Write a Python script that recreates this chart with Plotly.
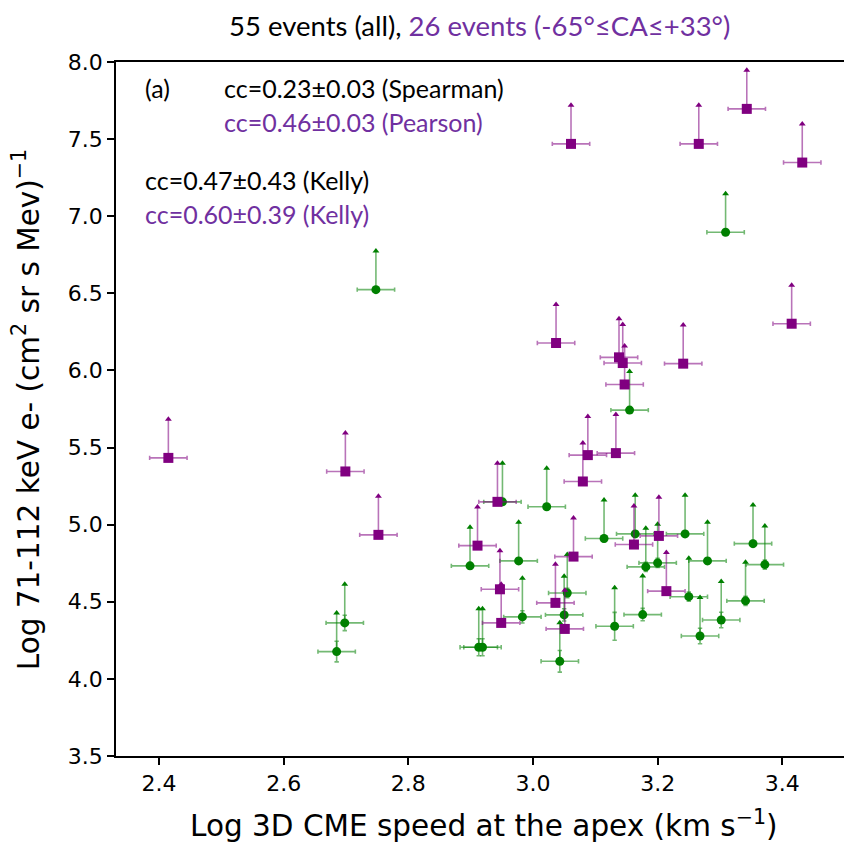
import plotly.graph_objects as go

# ---- data ----
green_x = [2.748, 2.698, 2.685, 3.309, 3.155, 2.951, 3.022, 2.899, 2.977, 3.114,
           3.164, 3.181, 3.200, 3.244, 3.280, 3.353, 3.372, 3.055, 2.983, 3.050,
           3.131, 3.176, 3.250, 3.302, 3.268, 3.341, 2.913, 2.919, 3.043]
green_y = [6.524, 4.363, 4.177, 6.896, 5.743, 5.148, 5.116, 4.733, 4.765, 4.910,
           4.940, 4.726, 4.752, 4.940, 4.765, 4.877, 4.741, 4.557, 4.402, 4.415,
           4.341, 4.417, 4.533, 4.382, 4.278, 4.506, 4.205, 4.205, 4.114]
green_yerr = [0.01, 0.05, 0.067, 0.0, 0.0, 0.0, 0.0, 0.02, 0.02, 0.02,
              0.02, 0.03, 0.03, 0.02, 0.02, 0.02, 0.03, 0.03, 0.04, 0.04,
              0.09, 0.04, 0.03, 0.05, 0.05, 0.03, 0.055, 0.055, 0.07]

purple_x = [3.061, 3.266, 3.343, 3.432, 3.037, 3.415, 3.138, 3.144, 3.241,
            2.415, 2.699, 2.752, 3.147, 3.088, 3.133, 3.080, 2.943, 2.911,
            3.065, 3.162, 3.202, 2.947, 3.036, 2.949, 3.051, 3.214]
purple_y = [7.469, 7.469, 7.696, 7.348, 6.178, 6.303, 6.085, 6.048, 6.044,
            5.433, 5.345, 4.934, 5.909, 5.451, 5.464, 5.280, 5.148, 4.864,
            4.793, 4.871, 4.927, 4.581, 4.493, 4.363, 4.324, 4.569]

x_err = 0.03          # horizontal error (log units)
lim_len = 0.25        # length of lower-limit arrows

x_ticks = [2.4, 2.6, 2.8, 3.0, 3.2, 3.4]
y_ticks = [3.5, 4.0, 4.5, 5.0, 5.5, 6.0, 6.5, 7.0, 7.5, 8.0]

title_black = "55 events (all), "
title_purple = "26 events (-65°≤CA≤+33°)"
x_label = "Log 3D CME speed at the apex (km s<sup>−1</sup>)"
y_label = "Log 71-112 keV e- (cm<sup>2</sup> sr s Mev)<sup>−1</sup>"

GREEN = "#008000"
PURPLE = "#800080"
GREEN_A = "rgba(0,128,0,0.55)"
PURPLE_A = "rgba(128,0,128,0.55)"
TXT_PURPLE = "#7030a0"

fig = go.Figure()


def add_series(xs, ys, color, color_a, symbol, size, yerr=None):
    # arrow shaft (lower limit -> upward arrow)
    fig.add_trace(go.Scatter(
        x=xs, y=ys, mode="markers", marker=dict(size=0.1, color=color_a),
        error_y=dict(type="data", symmetric=False, array=[lim_len] * len(xs),
                     arrayminus=[0] * len(xs), color=color_a, thickness=1.6, width=0),
        hoverinfo="skip", showlegend=False))
    # arrow heads
    fig.add_trace(go.Scatter(
        x=xs, y=[v + lim_len for v in ys], mode="markers",
        marker=dict(symbol="triangle-up", size=6, color=color),
        hoverinfo="skip", showlegend=False))
    # main markers with x-errors (and small symmetric y-errors)
    ey = None
    if yerr is not None:
        ey = dict(type="data", array=yerr, color=color_a, thickness=1.6, width=2.2)
    fig.add_trace(go.Scatter(
        x=xs, y=ys, mode="markers",
        marker=dict(symbol=symbol, size=size, color=color),
        error_x=dict(type="data", array=[x_err] * len(xs), color=color_a,
                     thickness=1.6, width=2.2),
        error_y=ey, showlegend=False))


add_series(green_x, green_y, GREEN, GREEN_A, "circle", 9, green_yerr)
add_series(purple_x, purple_y, PURPLE, PURPLE_A, "square", 10)

axis_common = dict(showline=True, linecolor="black", linewidth=1.5, mirror=True,
                   ticks="outside", ticklen=7, tickwidth=1.5, tickcolor="black",
                   showgrid=False, zeroline=False,
                   tickfont=dict(family="DejaVu Sans", size=22, color="black"))

fig.update_xaxes(range=[2.331, 3.507], tickvals=x_ticks,
                 ticktext=[f"{v:.1f}" for v in x_ticks], **axis_common)
fig.update_yaxes(range=[3.5, 8.0], tickvals=y_ticks,
                 ticktext=[f"{v:.1f}" for v in y_ticks], **axis_common)

# page body has an 8px margin -> figure is laid out 8px smaller and shifted
OFF = 8
W, H = 852 - OFF, 842 - OFF
L, R, T, B = 116 - OFF, 1, 62 - OFF, 86
pw, ph = W - L - R, H - T - B

fig.update_layout(
    width=W, height=H,
    margin=dict(l=L, r=R, t=T, b=B),
    paper_bgcolor="white", plot_bgcolor="white",
    showlegend=False,
)


def px_x(p):
    return (p - OFF - L) / pw


def px_y(p):
    return (H - B - (p - OFF)) / ph


fig.add_annotation(text=title_black + "<span style='color:%s'>%s</span>" % (TXT_PURPLE, title_purple),
                   xref="paper", yref="paper", x=px_x(480), y=px_y(25),
                   showarrow=False, xanchor="center", yanchor="middle",
                   font=dict(family="Lato", size=27.5, color="black"))
fig.add_annotation(text=x_label,
                   xref="paper", yref="paper", x=px_x(485), y=px_y(824),
                   showarrow=False, xanchor="center", yanchor="middle",
                   font=dict(family="DejaVu Sans", size=29.5, color="black"))
fig.add_annotation(text=y_label,
                   xref="paper", yref="paper", x=px_x(26), y=px_y(410),
                   showarrow=False, xanchor="center", yanchor="middle", textangle=-90,
                   font=dict(family="DejaVu Sans", size=29.5, color="black"))

# in-plot texts
texts = [
    ("(a)", 143, 88, "black"),
    ("cc=0.23±0.03 (Spearman)", 222, 88, "black"),
    ("cc=0.46±0.03 (Pearson)", 222, 122, TXT_PURPLE),
    ("cc=0.47±0.43 (Kelly)", 143, 180, "black"),
    ("cc=0.60±0.39 (Kelly)", 143, 214, TXT_PURPLE),
]
for t, x0, y0, c in texts:
    fig.add_annotation(text=t, xref="paper", yref="paper", x=px_x(x0), y=px_y(y0),
                       showarrow=False, xanchor="left", yanchor="middle",
                       font=dict(family="Lato", size=25, color=c))

fig.write_html("out.html")
